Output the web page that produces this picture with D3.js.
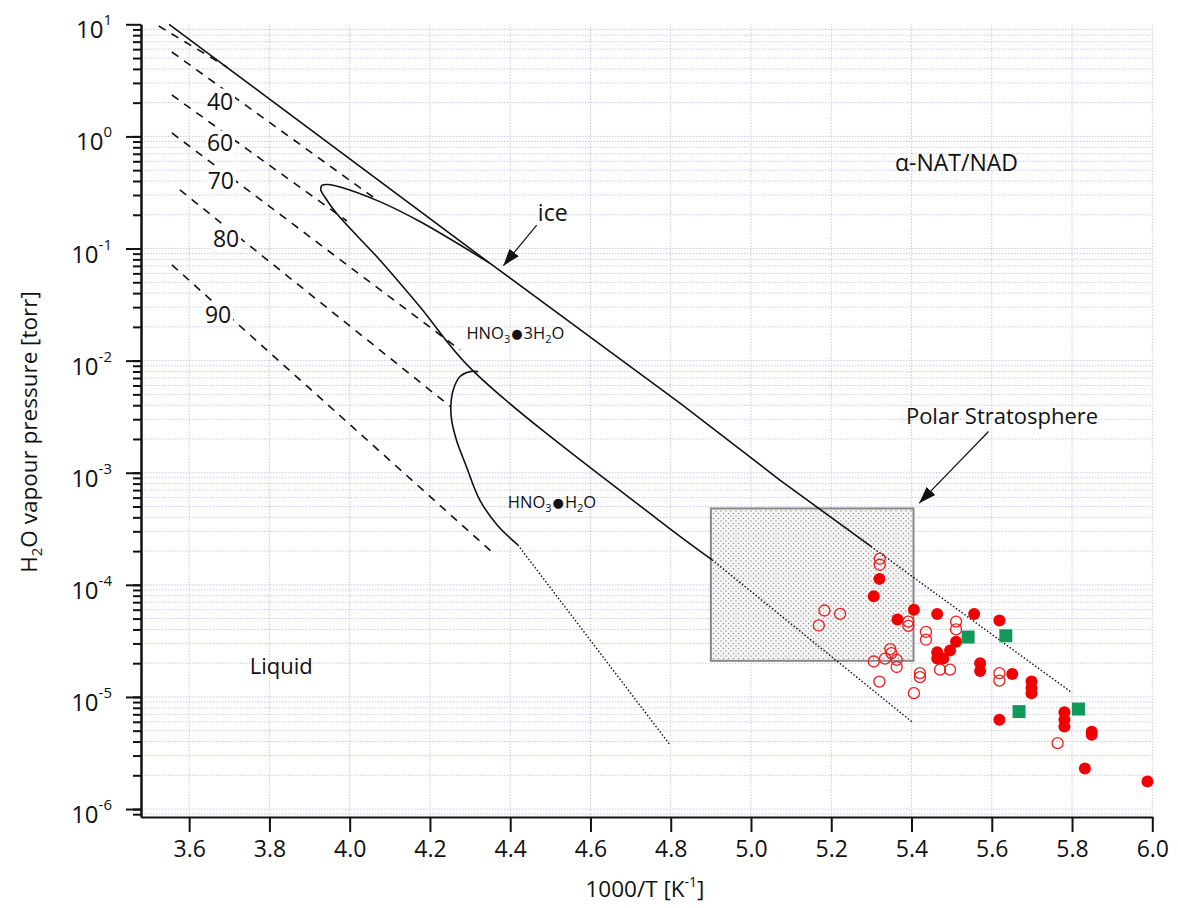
<!DOCTYPE html>
<html>
<head>
<meta charset="utf-8">
<script src="https://cdn.jsdelivr.net/npm/d3@7"></script>
<style>
  body { margin: 0; background: #fff; }
  text { font-family: "Open Sans", sans-serif; fill: #111; }
</style>
</head>
<body>
<svg id="chart" width="1178" height="908"></svg>
<script>
// ---- data ----
const xTicks = [3.6, 3.8, 4.0, 4.2, 4.4, 4.6, 4.8, 5.0, 5.2, 5.4, 5.6, 5.8, 6.0];
const yDecades = [1, 0, -1, -2, -3, -4, -5, -6];

// ice frost-point line [1000/T, torr]
const iceSolid = [[3.550, 10], [4.349, 0.0740], [4.823, 4.17e-3], [5.072, 8.6e-4], [5.299, 2.2e-4]];
const iceDotted = [[5.299, 2.2e-4], [5.800, 1.09e-5]];

// NAT boundary (nose + lower limb)
const natSolid = [[4.349, 0.0740], [4.175, 0.174], [4.075, 0.262], [3.976, 0.354], [3.946, 0.372],
  [3.931, 0.366], [3.928, 0.333], [3.938, 0.288], [3.967, 0.206], [4.075, 0.0791], [4.175, 0.0303],
  [4.305, 8.26e-3], [4.769, 3.80e-4], [4.903, 1.67e-4]];
const natDotted = [[4.903, 1.67e-4], [5.401, 6.0e-6]];

// NAD boundary
const nadSolid = [[4.320, 7.98e-3], [4.300, 7.98e-3], [4.275, 7.21e-3], [4.258, 5.48e-3], [4.252, 3.89e-3],
  [4.254, 2.96e-3], [4.266, 1.96e-3], [4.291, 1.13e-3], [4.324, 5.73e-4], [4.368, 3.4e-4], [4.419, 2.27e-4]];
const nadDotted = [[4.419, 2.27e-4], [4.798, 3.74e-6]];

// liquid iso-composition lines (wt% HNO3), first one unlabeled
const liquidLines = [
  [[3.524, 9.66], [3.694, 4.16]],
  [[3.557, 5.66], [4.058, 0.288]],
  [[3.557, 2.34], [3.993, 0.176]],
  [[3.557, 1.073], [4.275, 0.01247]],
  [[3.577, 0.333], [4.252, 3.87e-3]],
  [[3.557, 0.0714], [4.354, 1.97e-4]]
];
const liquidLabels = ["40", "60", "70", "80", "90"];
const liquidLabelPos = [[3.677, 2.09], [3.677, 0.883], [3.679, 0.409], [3.692, 0.1236], [3.672, 0.0261]];

// polar stratosphere box
const boxX = [4.90, 5.405];
const boxP = [2.1e-5, 4.8e-4];

// measurements
const filledPts = [[5.320, 1.13e-4], [5.306, 7.9e-5], [5.406, 6.0e-5], [5.365, 4.9e-5], [5.464, 5.5e-5],
  [5.556, 5.5e-5], [5.619, 4.8e-5], [5.464, 2.5e-5], [5.464, 2.2e-5], [5.479, 2.2e-5], [5.496, 2.6e-5],
  [5.511, 3.1e-5], [5.571, 2.0e-5], [5.571, 1.7e-5], [5.651, 1.6e-5], [5.699, 1.37e-5], [5.699, 1.2e-5],
  [5.699, 1.08e-5], [5.619, 6.25e-6], [5.781, 7.3e-6], [5.781, 6.25e-6], [5.781, 5.45e-6],
  [5.849, 4.9e-6], [5.849, 4.6e-6], [5.832, 2.3e-6], [5.988, 1.76e-6]];
const openPts = [[5.321, 1.71e-4], [5.321, 1.51e-4], [5.183, 5.9e-5], [5.222, 5.5e-5], [5.169, 4.34e-5],
  [5.392, 4.7e-5], [5.392, 4.3e-5], [5.436, 3.8e-5], [5.436, 3.24e-5], [5.306, 2.07e-5], [5.334, 2.2e-5],
  [5.347, 2.67e-5], [5.350, 2.46e-5], [5.363, 2.14e-5], [5.363, 1.85e-5], [5.320, 1.37e-5],
  [5.421, 1.63e-5], [5.421, 1.5e-5], [5.406, 1.08e-5], [5.511, 4.7e-5], [5.511, 4.0e-5],
  [5.471, 1.75e-5], [5.496, 1.75e-5], [5.619, 1.63e-5], [5.619, 1.4e-5], [5.764, 3.87e-6]];
const squarePts = [[5.541, 3.42e-5], [5.635, 3.51e-5], [5.668, 7.4e-6], [5.816, 7.8e-6]];

// ---- chart ----
const svg = d3.select("#chart");
const x = d3.scaleLinear().domain([3.48, 6.0]).range([141, 1152.3]);
const y = d3.scaleLog().domain([Math.pow(10, -6.071), 10]).range([817, 24.3]);

const minorVals = [];
d3.range(-7, 1).forEach(e => d3.range(1, 10).forEach(m => {
  const v = m * Math.pow(10, e);
  if (v >= y.domain()[0] && v <= 10) minorVals.push(v);
}));
const majorVals = yDecades.map(e => Math.pow(10, e));

// grid
const grid = svg.append("g").attr("stroke", "#c8c8f0").attr("stroke-width", 1).attr("stroke-dasharray", "1.5,1.5");
grid.selectAll(".gx").data(xTicks).join("line")
  .attr("x1", d => x(d)).attr("x2", d => x(d)).attr("y1", y.range()[0]).attr("y2", y.range()[1]);
grid.selectAll(".gy").data(minorVals).join("line")
  .attr("x1", x.range()[0]).attr("x2", x.range()[1]).attr("y1", d => y(d)).attr("y2", d => y(d));

// stipple pattern for the box
const defs = svg.append("defs");
const pat = defs.append("pattern").attr("id", "stip").attr("patternUnits", "userSpaceOnUse")
  .attr("width", 5).attr("height", 5);
pat.append("rect").attr("width", 5).attr("height", 5).attr("fill", "#f6f6f6");
pat.append("circle").attr("cx", 1).attr("cy", 1).attr("r", 0.75).attr("fill", "#909090");
pat.append("circle").attr("cx", 3.5).attr("cy", 3.5).attr("r", 0.75).attr("fill", "#909090");

svg.append("rect")
  .attr("x", x(boxX[0])).attr("y", y(boxP[1]))
  .attr("width", x(boxX[1]) - x(boxX[0])).attr("height", y(boxP[0]) - y(boxP[1]))
  .attr("fill", "url(#stip)").attr("stroke", "#888").attr("stroke-width", 2);

const line = d3.line().x(d => x(d[0])).y(d => y(d[1]));
const curve = d3.line().x(d => x(d[0])).y(d => y(d[1])).curve(d3.curveCatmullRom);

const lines = svg.append("g").attr("fill", "none").attr("stroke", "#111");
lines.append("path").attr("d", line(iceSolid)).attr("stroke-width", 1.6);
lines.append("path").attr("d", line(iceDotted)).attr("stroke-width", 1.4).attr("stroke-dasharray", "1.5,2");
lines.append("path").attr("d", curve(natSolid)).attr("stroke-width", 1.6);
lines.append("path").attr("d", line(natDotted)).attr("stroke-width", 1.4).attr("stroke-dasharray", "1.5,2");
lines.append("path").attr("d", curve(nadSolid)).attr("stroke-width", 1.6);
lines.append("path").attr("d", line(nadDotted)).attr("stroke-width", 1.4).attr("stroke-dasharray", "1.5,2");
lines.selectAll(".liq").data(liquidLines).join("path")
  .attr("d", d => line(d)).attr("stroke-width", 1.6).attr("stroke-dasharray", "8,7");

// composition labels sit on their lines with a white backing
const liq = svg.append("g").selectAll("g").data(liquidLabels).join("g")
  .attr("transform", (d, i) => `translate(${x(liquidLabelPos[i][0])},${y(liquidLabelPos[i][1])})`);
liq.append("rect").attr("x", -15).attr("y", -12).attr("width", 30).attr("height", 24).attr("fill", "#fff");
liq.append("text").attr("text-anchor", "middle").attr("dominant-baseline", "central")
  .style("font-size", "23px").text(d => d);

// markers
svg.append("g").selectAll("circle").data(openPts).join("circle")
  .attr("cx", d => x(d[0])).attr("cy", d => y(d[1])).attr("r", 5.5)
  .attr("fill", "none").attr("stroke", "#ee1c1c").attr("stroke-width", 1.3);
svg.append("g").selectAll("circle").data(filledPts).join("circle")
  .attr("cx", d => x(d[0])).attr("cy", d => y(d[1])).attr("r", 6)
  .attr("fill", "#f00000");
svg.append("g").selectAll("rect").data(squarePts).join("rect")
  .attr("x", d => x(d[0]) - 6.5).attr("y", d => y(d[1]) - 6.5).attr("width", 13).attr("height", 13)
  .attr("fill", "#12995a");

// annotations
defs.append("marker").attr("id", "arr").attr("viewBox", "0 0 10 10").attr("refX", 10).attr("refY", 5)
  .attr("markerWidth", 17).attr("markerHeight", 17).attr("markerUnits", "userSpaceOnUse")
  .attr("orient", "auto")
  .append("path").attr("d", "M0,1.5 L10,5 L0,8.5 Z").attr("fill", "#111");

const arrows = [
  [[4.466, 0.162], [4.383, 0.0703]],
  [[5.592, 2.33e-3], [5.419, 5.35e-4]]
];
svg.append("g").selectAll("line").data(arrows).join("line")
  .attr("x1", d => x(d[0][0])).attr("y1", d => y(d[0][1]))
  .attr("x2", d => x(d[1][0])).attr("y2", d => y(d[1][1]))
  .attr("stroke", "#111").attr("stroke-width", 1.2).attr("marker-end", "url(#arr)");

function label(xv, pv, txt, size, anchor) {
  return svg.append("text").attr("x", x(xv)).attr("y", y(pv))
    .attr("dominant-baseline", "central").attr("text-anchor", anchor || "start")
    .style("font-size", size + "px").text(txt);
}
label(4.506, 0.212, "ice", 23, "middle");
label(5.359, 0.596, "α-NAT/NAD", 23);
label(5.386, 3.28e-3, "Polar Stratosphere", 22);
label(3.751, 1.94e-5, "Liquid", 22);

// hydrate formulas: HNO3•3H2O, HNO3•H2O
function formula(xv, pv, water) {
  const t = svg.append("text").attr("x", x(xv)).attr("y", y(pv) + 6).style("font-size", "16.5px");
  t.append("tspan").text("HNO");
  t.append("tspan").text("3").style("font-size", "11px").attr("dy", 4);
  t.append("tspan").text("\u25CF").style("font-family", "DejaVu Sans").style("font-size", "13px")
    .attr("dx", 1).attr("dy", -5);
  t.append("tspan").text(water + "H").attr("dx", 1).attr("dy", 1);
  t.append("tspan").text("2").style("font-size", "11px").attr("dy", 4);
  t.append("tspan").text("O").attr("dy", -4);
}
formula(4.291, 0.01766, "3");
formula(4.394, 5.5e-4, "");

// axes
const xAxis = svg.append("g").attr("transform", `translate(0,${y.range()[0]})`)
  .call(d3.axisBottom(x).tickValues(xTicks).tickSize(15).tickSizeOuter(0).tickPadding(9)
    .tickFormat(d3.format(".1f")));
xAxis.selectAll("path, line").attr("stroke", "#111").attr("stroke-width", 2);
xAxis.selectAll("text").style("font-size", "23px").attr("fill", "#111");

const yMinor = svg.append("g").attr("transform", `translate(${x.range()[0]},0)`)
  .call(d3.axisLeft(y).tickValues(minorVals).tickSize(8).tickSizeOuter(0).tickFormat(""));
const yMajor = svg.append("g").attr("transform", `translate(${x.range()[0]},0)`)
  .call(d3.axisLeft(y).tickValues(majorVals).tickSize(15).tickSizeOuter(0).tickFormat(""));
[yMinor, yMajor].forEach(g => g.selectAll("path, line").attr("stroke", "#111").attr("stroke-width", 2));

const ylab = svg.append("g").selectAll("text").data(yDecades).join("text")
  .attr("x", 112).attr("y", d => y(Math.pow(10, d)) + 14)
  .attr("text-anchor", "end").style("font-size", "24px");
ylab.append("tspan").text("10");
ylab.append("tspan").text(d => d).style("font-size", "15px").attr("dy", -13);

// axis titles
const xt = svg.append("text").attr("x", 645).attr("y", 897).attr("text-anchor", "middle").style("font-size", "22.5px");
xt.append("tspan").text("1000/T [K");
xt.append("tspan").text("-1").style("font-size", "14px").attr("dy", -10);
xt.append("tspan").text("]").attr("dy", 10);

const yt = svg.append("text").attr("transform", "translate(37,432) rotate(-90)").attr("text-anchor", "middle")
  .style("font-size", "22.5px");
yt.append("tspan").text("H");
yt.append("tspan").text("2").style("font-size", "15px").attr("dy", 5);
yt.append("tspan").text("O vapour pressure [torr]").attr("dy", -5);
</script>
</body>
</html>
